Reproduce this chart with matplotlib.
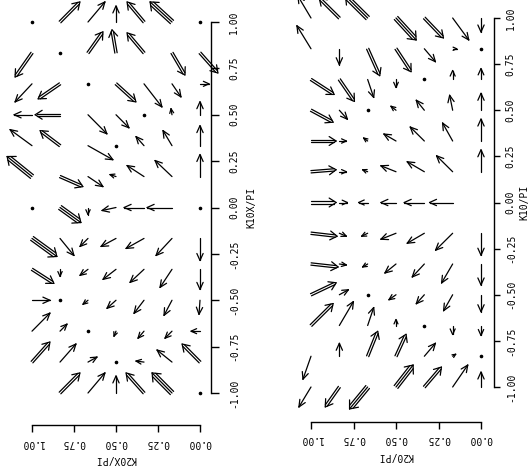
import numpy as np
import matplotlib
matplotlib.use("Agg")
import matplotlib.pyplot as plt
from matplotlib.collections import LineCollection

plt.rcParams['font.family'] = ['DejaVu Sans Mono', 'DejaVu Sans']
plt.rcParams['axes.unicode_minus'] = False

# grid (K20 columns listed left-to-right on screen, K10 rows top-to-bottom)
k20_cols = [1.0, 0.8333, 0.6667, 0.5, 0.3333, 0.1667, 0.0]
k10_rows = [1.0, 0.8333, 0.6667, 0.5, 0.3333, 0.1667, 0.0,
            -0.1667, -0.3333, -0.5, -0.6667, -0.8333, -1.0]

tick_vals = [1.0, 0.75, 0.5, 0.25, 0.0]
ytick_vals = [-1.0, -0.75, -0.5, -0.25, 0.0, 0.25, 0.5, 0.75, 1.0]

# Left panel arrows: screen components (east, north) and number of shafts (0 = none)
east_left = [
    [0, 20, 17, 0, -17, -22, 0],
    [-17, 0, 15, -4, -17, 13, 18],
    [-17, -22, 0, 20, 18, 9, 9],
    [-18, -25, 19, 13, 0, -1, 0],
    [-22, -20, 25, 0, -8, -9, 0],
    [-25, 23, 15, -6, -17, -17, 0],
    [0, 21, 0, -14, -20, -25, 0],
    [25, 14, -8, -15, -18, -16, 0],
    [22, 0, -8, -13, -14, -12, 0],
    [18, 0, -5, -9, -10, -8, -1],
    [18, 7, 0, -2, -6, -7, -9],
    [18, 16, 9, 0, -8, -15, -18],
    [0, 20, 17, 0, -18, -20, 0],
]
north_left = [
    [0, 20, 20, 16, 20, 20, 0],
    [-24, 0, 21, 23, 20, -22, -20],
    [-18, -15, 0, -18, -23, -13, 0],
    [0, 0, -19, -13, 0, 6, 13],
    [16, 15, -14, 0, 9, 15, 20],
    [20, -10, -10, 2, 11, 16, 22],
    [0, -15, -7, -3, 0, 0, 0],
    [-18, -17, -8, -8, -10, -17, -22],
    [-14, -7, -6, -10, -13, -18, -20],
    [0, 0, -4, -8, -13, -15, -14],
    [18, 7, 0, -5, -7, -7, 0],
    [20, 18, 5, 0, 1, 12, 18],
    [0, 20, 20, 17, 20, 20, 0],
]
shafts_left = [
    [1, 2, 1, 1, 2, 3, 1],
    [2, 1, 2, 2, 2, 2, 2],
    [1, 2, 1, 2, 1, 1, 1],
    [1, 2, 1, 1, 1, 1, 1],
    [1, 2, 1, 1, 1, 1, 1],
    [3, 2, 1, 1, 1, 1, 1],
    [1, 3, 1, 1, 1, 1, 1],
    [3, 1, 1, 1, 1, 1, 1],
    [2, 1, 1, 1, 1, 1, 1],
    [1, 1, 1, 1, 1, 1, 1],
    [1, 1, 1, 1, 1, 1, 1],
    [2, 1, 1, 1, 1, 1, 2],
    [0, 2, 1, 1, 2, 3, 1],
]

# Right panel arrows
east_right = [
    [-13, -20, -22, 20, 19, 16, 0],
    [-14, 0, 12, 15, 11, 4, 0],
    [23, 15, 6, 0, 0, 0, 0],
    [22, 8, 0, -5, -8, -3, 0],
    [25, 7, -4, -12, -14, -10, 0],
    [25, 7, -5, -15, -17, -16, 0],
    [25, 8, -9, -15, -20, -23, 0],
    [26, 7, -6, -15, -17, -17, 0],
    [27, 7, -5, -11, -12, -11, 0],
    [25, 9, 0, -7, -8, -9, 0],
    [22, 14, 6, 0, 0, 0, 0],
    [-8, 0, 10, 10, 11, 3, 0],
    [-12, -14, -18, 17, 17, 15, 0],
]
north_right = [
    [22, 20, 22, -22, -20, -22, -14],
    [23, -16, -27, -23, -13, 0, 0],
    [-15, -22, -18, -8, 0, 9, 11],
    [-12, -9, 0, 4, 10, 15, 17],
    [0, 0, 3, 7, 14, 18, 22],
    [2, 0, 2, 6, 10, 16, 22],
    [0, 0, 0, 0, 0, 0, 0],
    [-3, -3, -3, -6, -10, -17, -22],
    [-3, -1, -3, -9, -13, -19, -21],
    [12, 5, 0, -5, -9, -16, -17],
    [22, 24, 18, 6, 0, -9, -10],
    [-23, 13, 25, 22, 13, 2, 0],
    [-20, -20, -22, 22, 20, 22, 15],
]
shafts_right = [
    [1, 2, 3, 3, 2, 1, 1],
    [1, 1, 2, 2, 1, 1, 1],
    [2, 2, 1, 1, 1, 1, 1],
    [2, 1, 1, 1, 1, 1, 1],
    [2, 1, 1, 1, 1, 1, 1],
    [2, 1, 1, 1, 1, 1, 1],
    [2, 1, 1, 1, 1, 1, 0],
    [2, 1, 1, 1, 1, 1, 1],
    [2, 1, 1, 1, 1, 1, 1],
    [2, 1, 1, 1, 1, 1, 1],
    [2, 1, 1, 1, 1, 1, 1],
    [1, 1, 2, 2, 1, 1, 1],
    [1, 2, 3, 3, 2, 1, 1],
]

W, H = 532, 471
fig = plt.figure(figsize=(W / 100, H / 100), dpi=100)

SX = 1 / 169.0   # arrow units -> K20 data units
SY = 1 / 185.0   # arrow units -> K10 data units


def draw_field(ax, east, north, shafts):
    T = ax.transData
    inv = T.inverted()
    segs = []
    dots_x, dots_y = [], []
    for i, yv in enumerate(k10_rows):
        for j, xv in enumerate(k20_cols):
            n = shafts[i][j]
            if n == 0:
                continue
            head = (xv - east[i][j] * SX, yv + north[i][j] * SY)
            p0 = T.transform((xv, yv))
            p1 = T.transform(head)
            d = p1 - p0
            L = np.hypot(d[0], d[1])
            if L < 2.5:
                dots_x.append(xv)
                dots_y.append(yv)
                continue
            e = d / L
            nv = np.array([-e[1], e[0]])
            h = min(7.0, 0.4 * L + 2.0)
            w = 0.45 * h + (n - 1) * 1.3
            gap = 2.3
            offs = (np.arange(n) - (n - 1) / 2.0) * gap
            for o in offs:
                back = abs(o) * h / w
                a = p0 + nv * o
                b = p1 - e * back + nv * o
                segs.append(inv.transform(np.array([a, b])))
            segs.append(inv.transform(np.array([p1, p1 - e * h + nv * w])))
            segs.append(inv.transform(np.array([p1, p1 - e * h - nv * w])))
    lc = LineCollection(segs, colors='black', linewidths=0.9, clip_on=False,
                        capstyle='round')
    ax.add_collection(lc)
    ax.plot(dots_x, dots_y, 'o', color='black', ms=1.6, clip_on=False)


def setup(ax, xlabel, ylabel, right_off, bottom_off, ytick_len, ytick_pad,
          ylabelpad):
    ax.set_xlim(1, 0)
    ax.set_ylim(-1, 1)
    ax.patch.set_visible(False)
    ax.spines['left'].set_visible(False)
    ax.spines['top'].set_visible(False)
    ax.spines['right'].set_position(('outward', right_off * 0.72))
    ax.spines['bottom'].set_position(('outward', bottom_off * 0.72))
    ax.spines['right'].set_bounds(-1, 1)
    ax.spines['bottom'].set_bounds(0, 1)
    for s in ('right', 'bottom'):
        ax.spines[s].set_linewidth(1.0)
    ax.yaxis.tick_right()
    ax.set_yticks(ytick_vals)
    ax.set_yticklabels(['%.2f' % v for v in ytick_vals])
    ax.set_xticks(tick_vals)
    ax.set_xticklabels(['%.2f' % v for v in tick_vals])
    ax.tick_params(axis='y', direction='out', length=ytick_len, width=1.0,
                   pad=ytick_pad, labelrotation=90, labelsize=7)
    ax.tick_params(axis='x', direction='out', length=5, width=1.0,
                   pad=4, labelrotation=180, labelsize=7)
    for t in ax.get_yticklabels():
        t.set_va('center')
    ax.yaxis.set_label_position('right')
    ax.set_ylabel(ylabel, rotation=90, fontsize=7, labelpad=ylabelpad)
    ax.set_xlabel(xlabel, rotation=180, fontsize=7, labelpad=5)


ax1 = fig.add_axes([32 / W, (H - 393) / H, 168 / W, 371 / H])
setup(ax1, 'K20X/PI', 'K10X/PI', 11, 32, 5.5, 7.5, 5)
draw_field(ax1, east_left, north_left, shafts_left)

ax2 = fig.add_axes([311 / W, (H - 387) / H, 170 / W, 369 / H])
setup(ax2, 'K20/PI', 'K10/PI', 13, 35, 4.5, 4.0, 2.5)
draw_field(ax2, east_right, north_right, shafts_right)

fig.savefig('out.png', dpi=100)
